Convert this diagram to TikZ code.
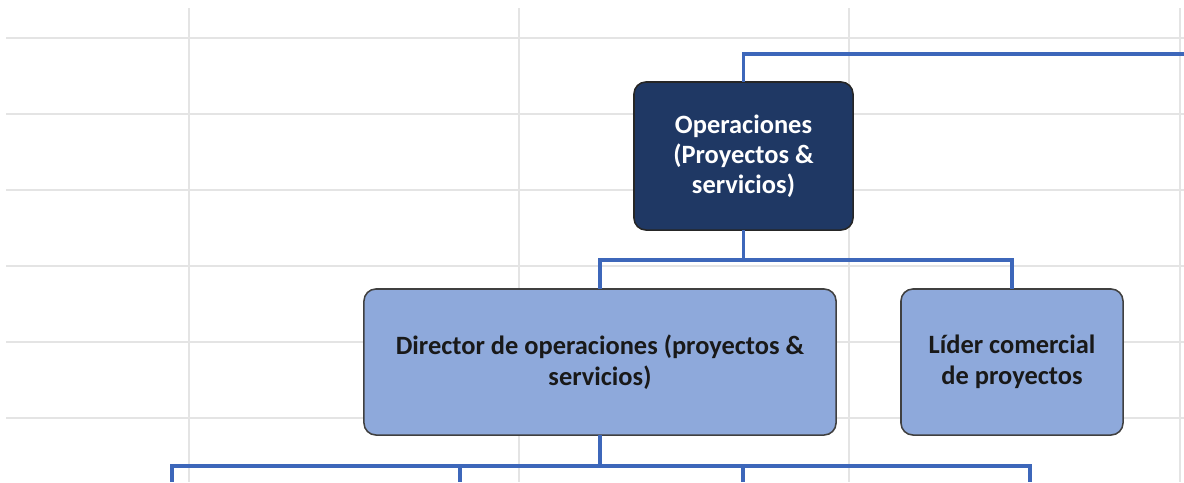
\documentclass[tikz,border=0pt]{standalone}
\usepackage{fontspec}
\setmainfont{Carlito}
\usepackage{tikz}
\usetikzlibrary{positioning}
\definecolor{azulosc}{RGB}{31,56,100}
\definecolor{azulcla}{RGB}{142,169,219}
\definecolor{azulln}{RGB}{61,103,186}
\definecolor{rejilla}{RGB}{228,228,228}
\tikzstyle{jefe} = [rectangle, draw=black!85, line width=1.1pt, fill=azulosc, text=white, font=\bfseries\fontsize{18.8}{21.5}\selectfont, align=center, rounded corners=0.3cm, outer sep=0pt]
\tikzstyle{cargo} = [rectangle, draw=black!75, line width=1.1pt, fill=azulcla, text=black!90, font=\bfseries\fontsize{18.8}{22}\selectfont, align=center, rounded corners=0.3cm, outer sep=0pt, minimum height=3.65cm]
\tikzstyle{enlace} = [draw=azulln, line width=2.8pt]
\tikzstyle{celda} = [draw=rejilla, line width=1.3pt]

\begin{document}
\begin{tikzpicture}[x=0.025cm, y=-0.025cm]
  \useasboundingbox (0,0) rectangle (1184,482);

  % Cuadricula de la hoja
  \foreach \fila in {38,114,190,266,342,418}
    \draw [celda] (6,\fila) -- (1184,\fila);
  \foreach \col in {189,519,849,1180}
    \draw [celda] (\col,8) -- (\col,482);

  % Cargos
  \node (oper) [jefe, minimum width=5.475cm, minimum height=3.7cm] at (743.5,156) {Operaciones\\(Proyectos \&\\servicios)};
  \node (dirop) [cargo, minimum width=11.8cm] at (600,362) {Director de operaciones (proyectos \&\\servicios)};
  \node (lider) [cargo, minimum width=5.55cm] at (1012,362) {Líder comercial\\de proyectos};

  % Puntos de union
  \coordinate (arriba) at (1184,54);
  \coordinate (nudo1) at (743.5,260);
  \coordinate (nudo2) at (600,466);
  \coordinate (abajo1) at (172,482);
  \coordinate (abajo2) at (460,482);
  \coordinate (abajo3) at (743,482);
  \coordinate (abajo4) at (1030,482);

  % Lineas hacia arriba
  \draw [enlace] (oper.north) |- (arriba);

  % Lineas hacia los cargos
  \draw [enlace] (oper.south) -- (nudo1) -| (dirop.north);
  \draw [enlace] (nudo1) -| (lider.north);

  % Lineas hacia abajo
  \draw [enlace] (dirop.south) -- (nudo2) -| (abajo1);
  \draw [enlace] (nudo2) -| (abajo2);
  \draw [enlace] (nudo2) -| (abajo3);
  \draw [enlace] (nudo2) -| (abajo4);

\end{tikzpicture}
\end{document}
